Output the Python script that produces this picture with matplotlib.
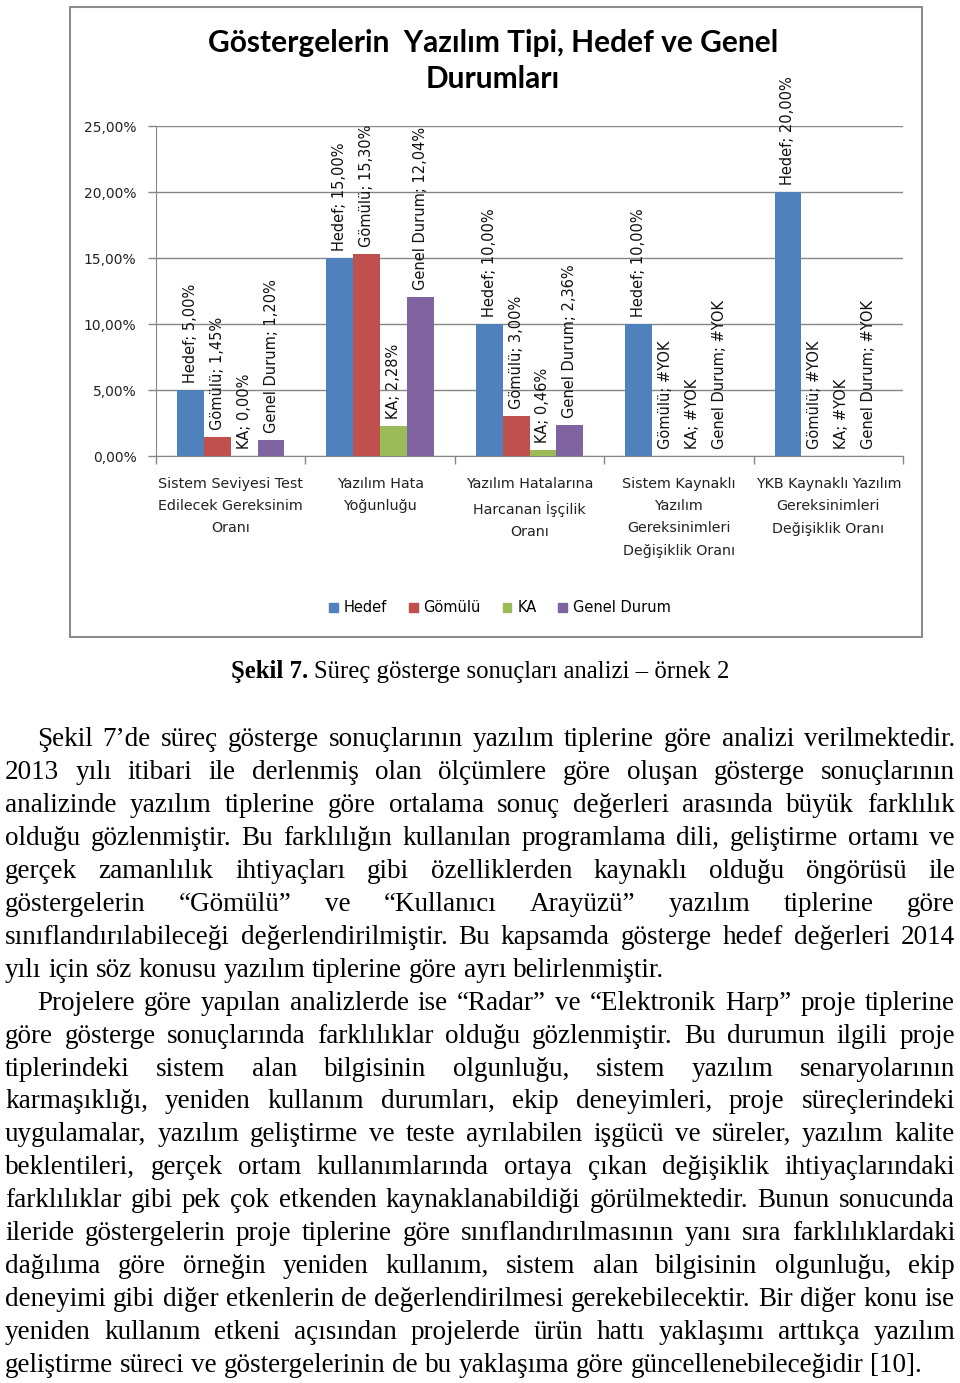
import numpy as np
import matplotlib.pyplot as plt
from matplotlib.patches import Rectangle
from matplotlib.transforms import IdentityTransform

W, H = 960, 1383

# chart data
categories = [
    "Sistem Seviyesi Test\nEdilecek Gereksinim\nOranı",
    "Yazılım Hata\nYoğunluğu",
    "Yazılım Hatalarına\nHarcanan İşçilik\nOranı",
    "Sistem Kaynaklı\nYazılım\nGereksinimleri\nDeğişiklik Oranı",
    "YKB Kaynaklı Yazılım\nGereksinimleri\nDeğişiklik Oranı",
]
series_names = ["Hedef", "Gömülü", "KA", "Genel Durum"]
hedef = [5.00, 15.00, 10.00, 10.00, 20.00]
gomulu = [1.45, 15.30, 3.00, np.nan, np.nan]
ka = [0.00, 2.28, 0.46, np.nan, np.nan]
genel_durum = [1.20, 12.04, 2.36, np.nan, np.nan]
colors = ["#4F81BD", "#C0504D", "#9BBB59", "#8064A2"]
y_ticks = [0, 5, 10, 15, 20, 25]

title = "Göstergelerin  Yazılım Tipi, Hedef ve Genel\nDurumları"

# text below the chart
caption_bold = "Şekil 7."
caption_rest = "Süreç gösterge sonuçları analizi – örnek 2"
# (line, indented, justified)
body_lines = [
    ("Şekil 7’de süreç gösterge sonuçlarının yazılım tiplerine göre analizi verilmektedir.", True, True),
    ("2013 yılı itibari ile derlenmiş olan ölçümlere göre oluşan gösterge sonuçlarının", False, True),
    ("analizinde yazılım tiplerine göre ortalama sonuç değerleri arasında büyük farklılık", False, True),
    ("olduğu gözlenmiştir. Bu farklılığın kullanılan programlama dili, geliştirme ortamı ve", False, True),
    ("gerçek zamanlılık ihtiyaçları gibi özelliklerden kaynaklı olduğu öngörüsü ile", False, True),
    ("göstergelerin “Gömülü” ve “Kullanıcı Arayüzü” yazılım tiplerine göre", False, True),
    ("sınıflandırılabileceği değerlendirilmiştir. Bu kapsamda gösterge hedef değerleri 2014", False, True),
    ("yılı için söz konusu yazılım tiplerine göre ayrı belirlenmiştir.", False, False),
    ("Projelere göre yapılan analizlerde ise “Radar” ve “Elektronik Harp” proje tiplerine", True, True),
    ("göre gösterge sonuçlarında farklılıklar olduğu gözlenmiştir. Bu durumun ilgili proje", False, True),
    ("tiplerindeki sistem alan bilgisinin olgunluğu, sistem yazılım senaryolarının", False, True),
    ("karmaşıklığı, yeniden kullanım durumları, ekip deneyimleri, proje süreçlerindeki", False, True),
    ("uygulamalar, yazılım geliştirme ve teste ayrılabilen işgücü ve süreler, yazılım kalite", False, True),
    ("beklentileri, gerçek ortam kullanımlarında ortaya çıkan değişiklik ihtiyaçlarındaki", False, True),
    ("farklılıklar gibi pek çok etkenden kaynaklanabildiği görülmektedir. Bunun sonucunda", False, True),
    ("ileride göstergelerin proje tiplerine göre sınıflandırılmasının yanı sıra farklılıklardaki", False, True),
    ("dağılıma göre örneğin yeniden kullanım, sistem alan bilgisinin olgunluğu, ekip", False, True),
    ("deneyimi gibi diğer etkenlerin de değerlendirilmesi gerekebilecektir. Bir diğer konu ise", False, True),
    ("yeniden kullanım etkeni açısından projelerde ürün hattı yaklaşımı arttıkça yazılım", False, True),
    ("geliştirme süreci ve göstergelerinin de bu yaklaşıma göre güncellenebileceğidir [10].", False, False),
]


def fmt(v):
    if np.isnan(v):
        return "#YOK"
    return ("%.2f%%" % v).replace(".", ",")


fig = plt.figure(figsize=(W / 100, H / 100), dpi=100)
fig.patch.set_facecolor("white")

# chart frame
fig.add_artist(Rectangle((70 / W, 1 - 637 / H), (922 - 70) / W, (637 - 7) / H,
                         transform=fig.transFigure, fill=False,
                         ec="#8c8c8c", lw=1.5))

fig.text(493 / W, 1 - 61 / H, title, ha="center", va="center",
         family="Lato", fontweight="bold", fontsize=21.5, linespacing=1.33)

ax = fig.add_axes([156 / W, 1 - 456 / H, (903 - 156) / W, (456 - 126) / H])
grey = "#868686"
series = [hedef, gomulu, ka, genel_durum]
x = np.arange(len(categories)) + 0.5
bw = 0.18
for k, (name, vals, c) in enumerate(zip(series_names, series, colors)):
    vals = np.array(vals, dtype=float)
    xs = x + (k - 1.5) * bw
    ax.bar(xs, np.nan_to_num(vals), width=bw, color=c, zorder=3)
    for xi, v in zip(xs, vals):
        top = 0 if np.isnan(v) else v
        ax.annotate("%s; %s" % (name, fmt(v)), (xi, top), xytext=(0, 5),
                    textcoords="offset points", rotation=90,
                    ha="center", va="bottom", fontsize=10.5, color="#111111")

ax.set_xlim(0, len(categories))
ax.set_ylim(0, 25)
ax.set_yticks(y_ticks)
ax.set_yticklabels([fmt(t) for t in y_ticks])
ax.set_xticks(np.arange(len(categories) + 1))
ax.set_xticklabels([])
ax.tick_params(axis="both", colors=grey, length=6, width=1)
ax.tick_params(axis="y", labelcolor="#222222", labelsize=10, pad=8)
ax.grid(axis="y", color=grey, lw=1, zorder=0)
for s in ["top", "right"]:
    ax.spines[s].set_visible(False)
for s in ["left", "bottom"]:
    ax.spines[s].set_color(grey)

for xi, lab in zip(x, categories):
    ax.text(xi, -21 / 330, lab, transform=ax.get_xaxis_transform(),
            ha="center", va="top", fontsize=10.3, linespacing=1.75,
            color="#222222")

handles = [Rectangle((0, 0), 1, 1, color=c) for c in colors]
fig.legend(handles, series_names, loc="center",
           bbox_to_anchor=(500 / W, 1 - 608 / H), ncol=4, frameon=False,
           handlelength=0.6, handleheight=0.6, handletextpad=0.4,
           columnspacing=1.5, fontsize=10.5)

# text below the chart, placed in pixels
renderer = fig.canvas.get_renderer()
serif = "Liberation Serif"
ident = IdentityTransform()


def word_art(s, fs, weight="normal"):
    t = fig.text(0, 0, s, transform=ident, family=serif, fontsize=fs,
                 fontweight=weight, va="baseline", ha="left")
    return t, t.get_window_extent(renderer).width


# caption
cfs = 17.8
b, wb = word_art(caption_bold, cfs, "bold")
r, wr = word_art(caption_rest, cfs)
csp = cfs * 100 / 72 * 0.25
cx0 = 480 - (wb + csp + wr) / 2
b.set_position((cx0, H - 678))
r.set_position((cx0 + wb + csp, H - 678))

fs = 19.5
space = fs * 100 / 72 * 0.25
left, right, indent = 5, 955, 37
for i, (line, ind, just) in enumerate(body_lines):
    y = H - (746.5 + 32.9 * i)
    x0 = indent if ind else left
    arts = [word_art(w, fs) for w in line.split(" ")]
    total = sum(w for _, w in arts)
    gap = (right - x0 - total) / (len(arts) - 1) if just else space
    xp = x0
    for t, w in arts:
        t.set_position((xp, y))
        xp += w + gap

fig.savefig("out.png", dpi=100)
